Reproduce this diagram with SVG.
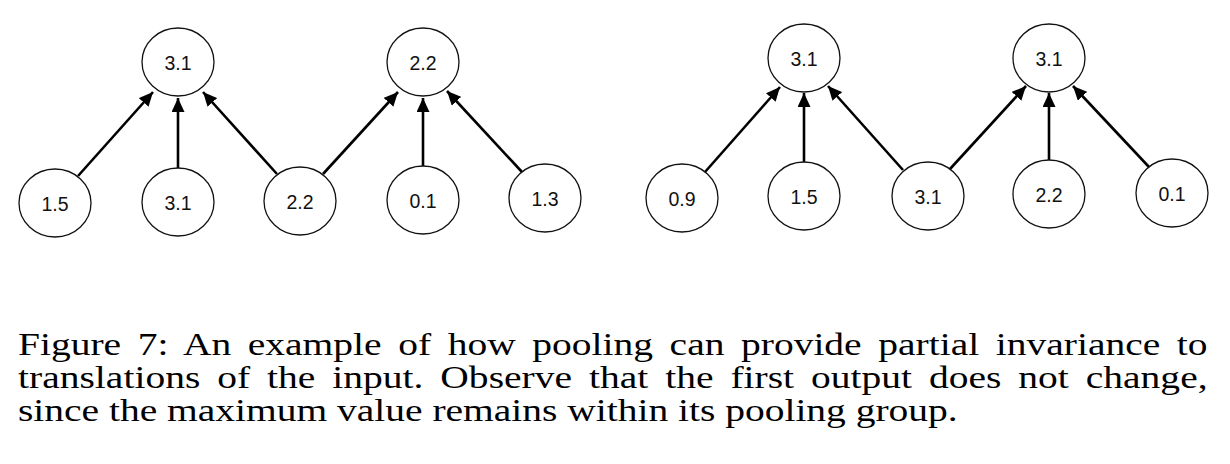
<svg xmlns="http://www.w3.org/2000/svg" width="1230" height="464" viewBox="0 0 1230 464">
<style>
.n ellipse{fill:#fff;stroke:#111;stroke-width:1.3}
.n text{font-family:"Liberation Sans",Arial,sans-serif;font-size:19.5px;text-anchor:middle;fill:#111}
#edges line{stroke:#000;stroke-width:2.6;marker-end:url(#ah)}
.cap{font-family:"Liberation Serif",serif;font-size:31px;fill:#000}
</style>
<defs>
<marker id="ah" markerUnits="userSpaceOnUse" markerWidth="15" markerHeight="13" refX="14" refY="6.5" orient="auto">
<path d="M0,0 L14,6.5 L0,13 z" fill="#000"/>
</marker>
</defs>
<rect width="1230" height="464" fill="#fff"/>
<g id="edges">
<line x1="78" y1="176" x2="153" y2="92"/>
<line x1="178" y1="168" x2="178" y2="98"/>
<line x1="277" y1="174" x2="203" y2="92"/>
<line x1="323" y1="174" x2="398" y2="92"/>
<line x1="423" y1="166" x2="423" y2="98"/>
<line x1="522" y1="172" x2="447" y2="91"/>
<line x1="705" y1="172" x2="780" y2="87"/>
<line x1="804" y1="163" x2="804" y2="93"/>
<line x1="903" y1="170" x2="828" y2="86"/>
<line x1="950" y1="169" x2="1026" y2="86"/>
<line x1="1049" y1="160" x2="1049" y2="93"/>
<line x1="1149" y1="167" x2="1073" y2="86"/>
</g>
<g id="a_top1" class="n"><ellipse cx="178" cy="62" rx="36" ry="34"/><text x="178" y="70">3.1</text></g>
<g id="a_top2" class="n"><ellipse cx="423" cy="62" rx="36" ry="34"/><text x="423" y="70">2.2</text></g>
<g id="a_in1" class="n"><ellipse cx="55" cy="203" rx="36" ry="34"/><text x="55" y="211">1.5</text></g>
<g id="a_in2" class="n"><ellipse cx="178" cy="202" rx="36" ry="34"/><text x="178" y="210">3.1</text></g>
<g id="a_in3" class="n"><ellipse cx="300" cy="201" rx="36" ry="34"/><text x="300" y="209">2.2</text></g>
<g id="a_in4" class="n"><ellipse cx="423" cy="200" rx="36" ry="34"/><text x="423" y="208">0.1</text></g>
<g id="a_in5" class="n"><ellipse cx="545" cy="198" rx="36" ry="34"/><text x="545" y="206">1.3</text></g>
<g id="b_top1" class="n"><ellipse cx="804" cy="58" rx="36" ry="34"/><text x="804" y="66">3.1</text></g>
<g id="b_top2" class="n"><ellipse cx="1049" cy="58" rx="36" ry="34"/><text x="1049" y="66">3.1</text></g>
<g id="b_in1" class="n"><ellipse cx="682" cy="198" rx="36" ry="34"/><text x="682" y="206">0.9</text></g>
<g id="b_in2" class="n"><ellipse cx="804" cy="196" rx="36" ry="34"/><text x="804" y="204">1.5</text></g>
<g id="b_in3" class="n"><ellipse cx="928" cy="196" rx="36" ry="34"/><text x="928" y="204">3.1</text></g>
<g id="b_in4" class="n"><ellipse cx="1049" cy="194" rx="36" ry="34"/><text x="1049" y="202">2.2</text></g>
<g id="b_in5" class="n"><ellipse cx="1172" cy="193" rx="36" ry="34"/><text x="1172" y="201">0.1</text></g>
<g id="caption">
<text class="cap" transform="translate(18,355) scale(1.275,1)" word-spacing="5.3" textLength="933" lengthAdjust="spacing">Figure 7: An example of how pooling can provide partial invariance to</text>
<text class="cap" transform="translate(18,388) scale(1.275,1)" word-spacing="5.5" textLength="933" lengthAdjust="spacing">translations of the input. Observe that the first output does not change,</text>
<text class="cap" transform="translate(18,421) scale(1.275,1)" textLength="737" lengthAdjust="spacing">since the maximum value remains within its pooling group.</text>
</g>
</svg>
